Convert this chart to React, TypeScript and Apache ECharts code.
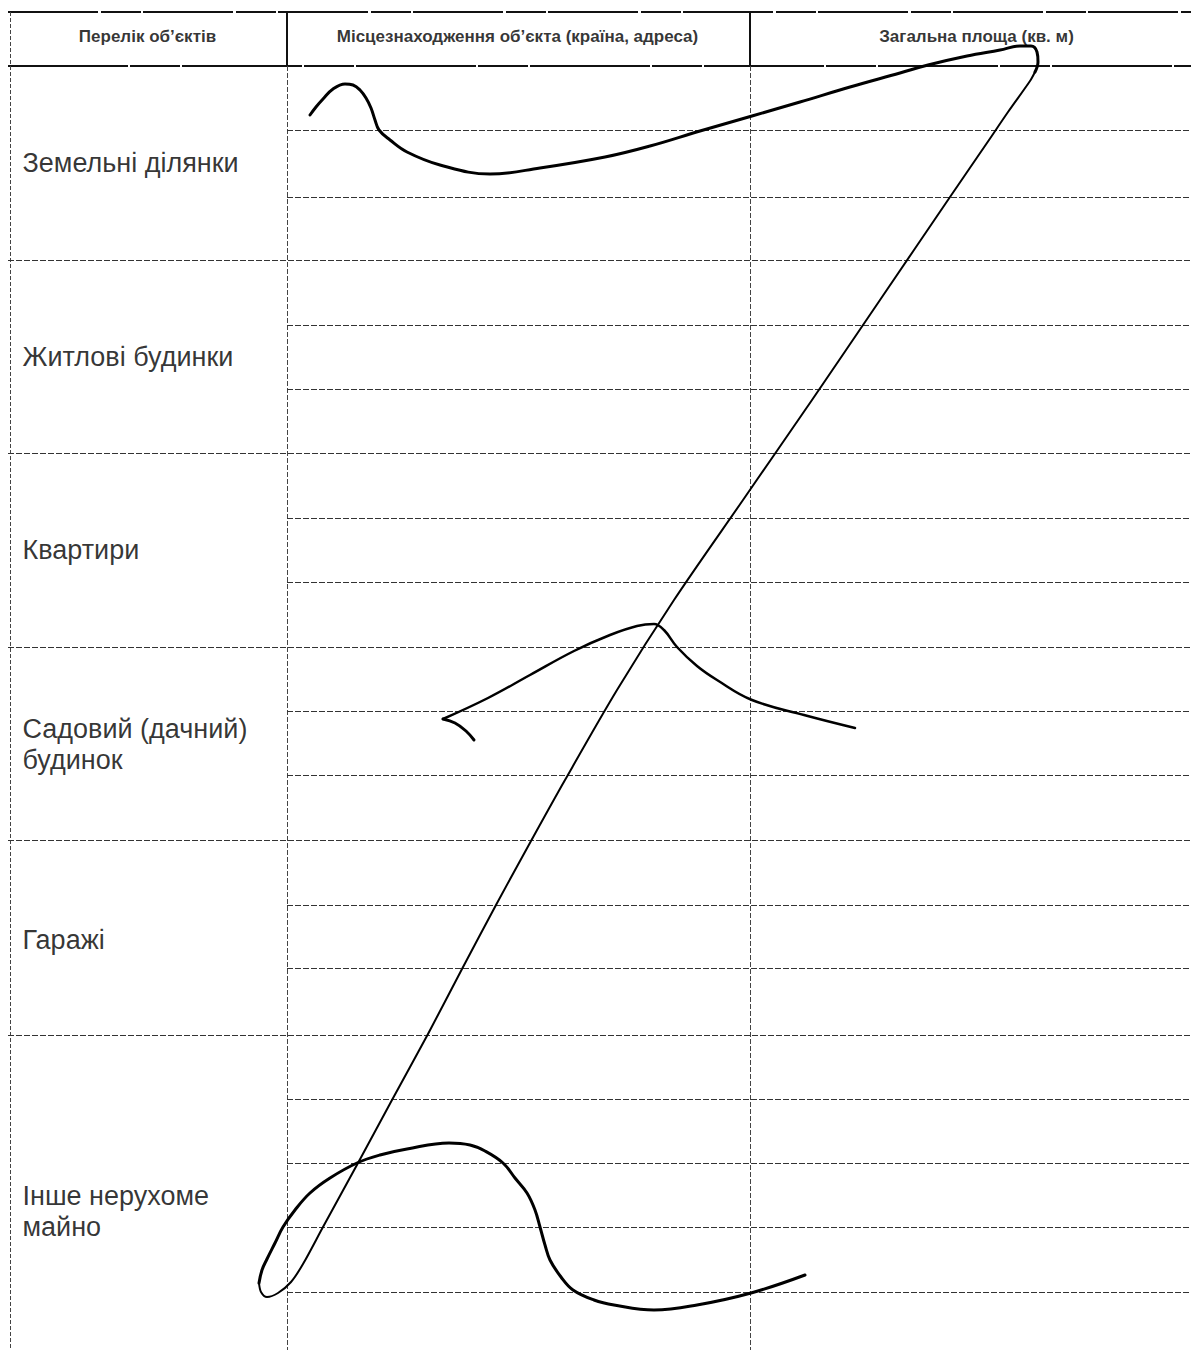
import React, { useEffect, useRef } from "react";
import * as echarts from "echarts";

const W = 1191;
const H = 1350;

// Header titles and their column centres
const headerTitles = [
  "Перелік об’єктів",
  "Місцезнаходження об’єкта (країна, адреса)",
  "Загальна площа (кв. м)",
];
const headerX = [148, 518, 977];
const headerY = 37;

// Row categories and label centres
const categories = [
  "Земельні ділянки",
  "Житлові будинки",
  "Квартири",
  "Садовий (дачний)\nбудинок",
  "Гаражі",
  "Інше нерухоме\nмайно",
];
const categoryY = [163, 357, 550, 745, 940, 1212];
const labelX = 23;

// Table rules
const headerTop = 12;
const headerBottom = 66;
const leftBorderX = 10;
const columnX = [287, 750];
const sectionLines = [260, 453, 647, 840, 1035];
const subLines = [130, 197, 325, 389, 518, 582, 711, 775, 905, 968, 1099, 1163, 1227, 1292];

// Handwritten strokes (signature)
const strokeTop = [
  [310, 115], [316, 107], [323, 99], [333, 89], [345, 84], [353, 85], [360, 90],
  [366, 98], [371, 108], [375, 120], [379, 130], [390, 140], [407, 152], [440, 165],
  [490, 174], [540, 168], [605, 157], [650, 146], [700, 131], [752, 116], [800, 102],
  [850, 87], [900, 73], [928, 65], [967, 56], [1000, 50], [1020, 46], [1031, 46],
  [1037, 52], [1038, 62], [1035, 72],
];
const strokeDiagonal = [
  [1035, 72], [1030, 81], [1008, 112], [989, 140], [950, 197], [880, 300], [812, 400],
  [743, 500], [674, 600], [617, 690], [565, 780], [531, 841], [496, 905], [462, 969],
  [428, 1034], [392, 1100], [358, 1163], [323, 1227], [303, 1264], [291, 1282],
  [278, 1293], [267, 1297], [261, 1292], [259, 1283],
];
const strokeBottom = [
  [259, 1283], [262, 1270], [267, 1259], [275, 1243], [283, 1227], [295, 1210],
  [310, 1193], [330, 1178], [357, 1163], [380, 1155], [407, 1149], [449, 1143],
  [470, 1145], [485, 1151], [503, 1163], [515, 1178], [527, 1193], [535, 1210],
  [540, 1227], [545, 1245], [550, 1260], [561, 1277], [573, 1290], [594, 1300],
  [614, 1305], [654, 1310], [697, 1305], [751, 1293], [805, 1275],
];
const strokeMiddleTip = [[474, 740], [466, 731], [455, 723], [443, 719]];
const strokeMiddle = [
  [443, 719], [488, 698], [530, 675], [574, 651], [610, 635], [637, 626], [654, 624],
  [664, 630], [677, 647], [697, 666], [717, 680], [752, 700], [804, 715], [855, 728],
];

function rule(x1: number, y1: number, x2: number, y2: number, width: number, color: string, type: any) {
  return {
    coords: [[x1, y1], [x2, y2]],
    lineStyle: { width, color, type, opacity: 1 },
  };
}

function buildRules() {
  const dashed = [6, 2];
  const r: any[] = [];
  r.push(rule(leftBorderX - 2, headerTop, W, headerTop, 2, "#111", [90, 3, 40, 2]));
  r.push(rule(leftBorderX - 2, headerBottom, W, headerBottom, 2, "#111", [120, 2, 50, 2]));
  r.push(rule(leftBorderX, headerTop, leftBorderX, H, 1, "#444", [4, 2]));
  columnX.forEach((x) => {
    r.push(rule(x, headerTop, x, headerBottom, 2, "#111", "solid"));
    r.push(rule(x, headerBottom, x, H, 1, "#444", [5, 2]));
  });
  sectionLines.forEach((y) => r.push(rule(leftBorderX - 2, y, W, y, 1, "#333", dashed)));
  subLines.forEach((y) => r.push(rule(columnX[0], y, W, y, 1, "#333", dashed)));
  return r;
}

function strokeSeries(data: number[][], width: number, smooth = 0.4) {
  return {
    type: "line",
    data,
    smooth,
    showSymbol: false,
    silent: true,
    lineStyle: { color: "#000", width, cap: "round", join: "round" },
    z: 5,
  };
}

export default function App() {
  const ref = useRef<HTMLDivElement>(null);
  useEffect(() => {
    document.body.style.margin = "0";
    const chart = echarts.init(ref.current!, null, { renderer: "svg" });
    const font = "'Liberation Sans', Arial, sans-serif";
    chart.setOption({
      animation: false,
      backgroundColor: "#fff",
      grid: { left: 0, right: 0, top: 0, bottom: 0 },
      xAxis: { type: "value", min: 0, max: W, show: false },
      yAxis: { type: "value", min: 0, max: H, inverse: true, show: false },
      series: [
        {
          type: "lines",
          coordinateSystem: "cartesian2d",
          silent: true,
          z: 1,
          data: buildRules(),
        },
        {
          type: "scatter",
          silent: true,
          symbolSize: 1,
          itemStyle: { color: "transparent" },
          data: headerTitles.map((t, i) => ({ value: [headerX[i], headerY], name: t })),
          label: {
            show: true,
            position: [0, 0],
            align: "center",
            verticalAlign: "middle",
            formatter: (p: any) => p.name,
            fontFamily: font,
            fontWeight: "bold",
            fontSize: 17,
            color: "#000",
          },
        },
        {
          type: "scatter",
          silent: true,
          symbolSize: 1,
          itemStyle: { color: "transparent" },
          data: categories.map((t, i) => ({ value: [labelX, categoryY[i]], name: t })),
          label: {
            show: true,
            position: [0, 0],
            align: "left",
            verticalAlign: "middle",
            formatter: (p: any) => p.name,
            fontFamily: font,
            fontSize: 27,
            lineHeight: 31,
            color: "#000",
          },
        },
        strokeSeries(strokeTop, 3),
        strokeSeries(strokeDiagonal, 2, 0.3),
        strokeSeries(strokeBottom, 3),
        strokeSeries(strokeMiddleTip, 3),
        strokeSeries(strokeMiddle, 2.5),
      ],
    });
    return () => chart.dispose();
  }, []);
  return <div ref={ref} style={{ width: W, height: H, background: "#fff" }} />;
}
